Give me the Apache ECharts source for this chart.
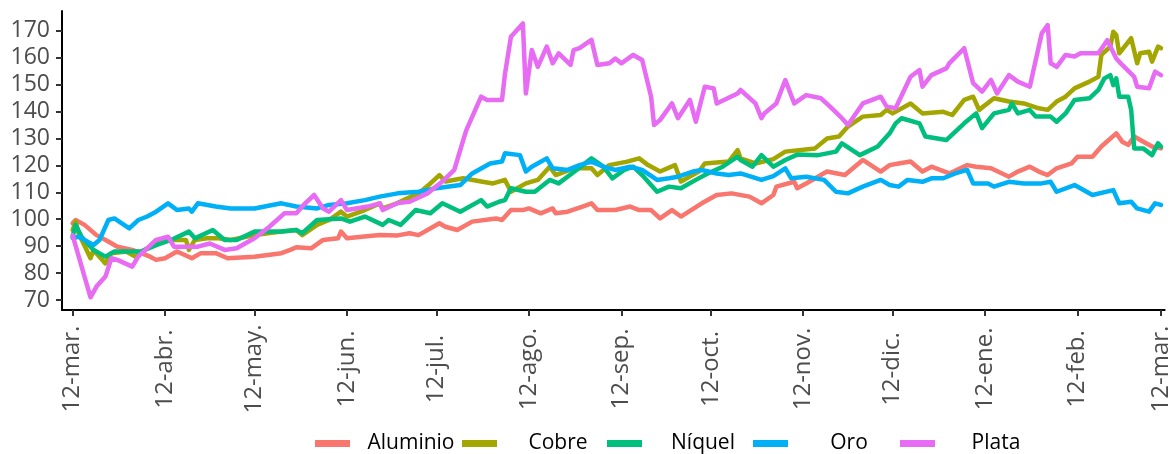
<!DOCTYPE html>
<html>
<head>
<meta charset="utf-8">
<script src="https://cdn.jsdelivr.net/npm/echarts@6/dist/echarts.min.js"></script>
<style>
  html, body { margin: 0; padding: 0; background: #ffffff; }
  #chart { width: 1173px; height: 454px; }
</style>
</head>
<body>
<div id="chart"></div>
<script>
// Índices de precios de metales (base 100), marzo 2020 – marzo 2021
const aluminio = [
  ['2020-03-12', 98.5], ['2020-03-13', 99.7], ['2020-03-16', 97.9], ['2020-03-20', 94.1], ['2020-03-24', 91.7],
  ['2020-03-27', 89.8], ['2020-04-01', 88.6], ['2020-04-04', 87.4], ['2020-04-07', 86.1], ['2020-04-09', 84.9],
  ['2020-04-12', 85.5], ['2020-04-16', 88.0], ['2020-04-21', 85.5], ['2020-04-24', 87.4], ['2020-04-29', 87.4],
  ['2020-05-03', 85.5], ['2020-05-12', 86.1], ['2020-05-21', 87.4], ['2020-05-24', 88.6], ['2020-05-26', 89.6],
  ['2020-05-31', 89.2], ['2020-06-04', 92.3], ['2020-06-09', 92.9], ['2020-06-10', 95.4], ['2020-06-12', 92.9],
  ['2020-06-17', 93.5], ['2020-06-23', 94.1], ['2020-06-29', 94.0], ['2020-07-03', 94.8], ['2020-07-06', 94.1],
  ['2020-07-13', 98.5], ['2020-07-15', 97.2], ['2020-07-19', 96.0], ['2020-07-24', 99.1], ['2020-08-01', 100.3],
  ['2020-08-03', 99.7], ['2020-08-06', 103.4], ['2020-08-10', 103.4], ['2020-08-12', 104.0], ['2020-08-16', 102.2],
  ['2020-08-20', 104.0], ['2020-08-21', 102.2], ['2020-08-25', 102.8], ['2020-08-30', 104.7], ['2020-09-02', 105.9],
  ['2020-09-04', 103.4], ['2020-09-10', 103.4], ['2020-09-15', 104.7], ['2020-09-18', 103.4], ['2020-09-22', 103.4],
  ['2020-09-25', 100.3], ['2020-09-29', 103.4], ['2020-10-02', 101.0], ['2020-10-09', 105.9], ['2020-10-14', 109.0],
  ['2020-10-19', 109.6], ['2020-10-25', 108.4], ['2020-10-29', 105.9], ['2020-11-02', 109.0], ['2020-11-03', 112.1],
  ['2020-11-09', 113.9], ['2020-11-10', 111.5], ['2020-11-13', 113.3], ['2020-11-20', 117.7], ['2020-11-26', 116.4],
  ['2020-12-02', 122.0], ['2020-12-08', 117.7], ['2020-12-11', 120.1], ['2020-12-14', 120.7], ['2020-12-18', 121.4],
  ['2020-12-22', 117.7], ['2020-12-25', 119.5], ['2020-12-31', 117.0], ['2021-01-06', 120.1], ['2021-01-09', 119.5],
  ['2021-01-14', 118.9], ['2021-01-20', 115.8], ['2021-01-23', 117.7], ['2021-01-27', 119.5], ['2021-01-30', 117.7],
  ['2021-02-02', 116.4], ['2021-02-05', 118.9], ['2021-02-10', 120.7], ['2021-02-12', 123.2], ['2021-02-17', 123.2],
  ['2021-02-20', 127.0], ['2021-02-25', 131.9], ['2021-02-27', 128.8], ['2021-03-01', 127.6], ['2021-03-03', 130.7],
  ['2021-03-07', 128.2], ['2021-03-09', 127.0], ['2021-03-12', 126.3]
];

const cobre = [
  ['2020-03-12', 96.0], ['2020-03-13', 99.1], ['2020-03-14', 94.8], ['2020-03-18', 85.5], ['2020-03-19', 88.6],
  ['2020-03-21', 86.1], ['2020-03-23', 83.6], ['2020-03-25', 87.4], ['2020-03-30', 88.0], ['2020-04-02', 86.1],
  ['2020-04-05', 88.6], ['2020-04-09', 91.0], ['2020-04-14', 92.3], ['2020-04-19', 92.3], ['2020-04-20', 88.6],
  ['2020-04-22', 92.3], ['2020-04-26', 92.9], ['2020-04-30', 92.9], ['2020-05-04', 92.3], ['2020-05-12', 94.1],
  ['2020-05-21', 95.4], ['2020-05-26', 96.0], ['2020-05-28', 94.1], ['2020-06-02', 97.9], ['2020-06-06', 99.7],
  ['2020-06-10', 102.8], ['2020-06-12', 101.0], ['2020-06-18', 103.4], ['2020-06-23', 105.9], ['2020-06-24', 104.0],
  ['2020-06-29', 106.0], ['2020-07-01', 107.1], ['2020-07-06', 109.6], ['2020-07-10', 113.3], ['2020-07-13', 116.4],
  ['2020-07-15', 114.0], ['2020-07-21', 115.2], ['2020-07-27', 114.0], ['2020-07-31', 113.3], ['2020-08-04', 114.6],
  ['2020-08-06', 110.2], ['2020-08-11', 113.3], ['2020-08-15', 114.6], ['2020-08-19', 119.5], ['2020-08-21', 116.4],
  ['2020-08-27', 118.9], ['2020-09-02', 118.9], ['2020-09-04', 116.4], ['2020-09-08', 120.1], ['2020-09-14', 121.4],
  ['2020-09-18', 122.6], ['2020-09-21', 120.1], ['2020-09-25', 117.7], ['2020-09-30', 120.1], ['2020-10-02', 114.0],
  ['2020-10-08', 117.7], ['2020-10-10', 120.7], ['2020-10-18', 121.4], ['2020-10-21', 125.7], ['2020-10-22', 122.6],
  ['2020-10-27', 120.7], ['2020-11-02', 122.3], ['2020-11-06', 125.1], ['2020-11-16', 126.3], ['2020-11-20', 130.0],
  ['2020-11-24', 130.7], ['2020-11-27', 134.4], ['2020-12-02', 138.1], ['2020-12-08', 138.7], ['2020-12-10', 140.6],
  ['2020-12-12', 139.3], ['2020-12-18', 143.0], ['2020-12-22', 139.3], ['2020-12-29', 139.9], ['2021-01-01', 138.7],
  ['2021-01-05', 144.3], ['2021-01-08', 145.5], ['2021-01-10', 140.6], ['2021-01-15', 144.9], ['2021-01-20', 143.7],
  ['2021-01-25', 143.0], ['2021-01-30', 141.2], ['2021-02-02', 140.6], ['2021-02-05', 143.7], ['2021-02-08', 145.5],
  ['2021-02-11', 148.6], ['2021-02-16', 151.1], ['2021-02-19', 152.9], ['2021-02-20', 161.0], ['2021-02-23', 164.1],
  ['2021-02-24', 169.6], ['2021-02-25', 168.4], ['2021-02-26', 161.6], ['2021-03-02', 167.2], ['2021-03-04', 157.9],
  ['2021-03-05', 161.6], ['2021-03-08', 162.2], ['2021-03-09', 158.5], ['2021-03-11', 164.1], ['2021-03-12', 163.5]
];

const niquel = [
  ['2020-03-12', 93.5], ['2020-03-13', 97.9], ['2020-03-15', 93.5], ['2020-03-19', 88.6], ['2020-03-23', 86.1],
  ['2020-03-26', 88.0], ['2020-04-01', 88.0], ['2020-04-04', 88.0], ['2020-04-09', 90.4], ['2020-04-14', 92.3],
  ['2020-04-20', 95.4], ['2020-04-22', 92.9], ['2020-04-28', 96.0], ['2020-05-02', 92.3], ['2020-05-06', 92.3],
  ['2020-05-12', 95.4], ['2020-05-21', 95.4], ['2020-05-26', 96.0], ['2020-05-28', 94.8], ['2020-06-02', 99.7],
  ['2020-06-10', 100.3], ['2020-06-13', 99.1], ['2020-06-18', 101.0], ['2020-06-24', 97.9], ['2020-06-26', 99.7],
  ['2020-06-30', 97.9], ['2020-07-05', 103.4], ['2020-07-10', 102.2], ['2020-07-14', 105.9], ['2020-07-20', 102.8],
  ['2020-07-27', 107.1], ['2020-07-29', 104.7], ['2020-08-02', 106.5], ['2020-08-04', 107.1], ['2020-08-06', 111.5],
  ['2020-08-11', 110.2], ['2020-08-14', 110.2], ['2020-08-19', 114.6], ['2020-08-22', 113.3], ['2020-08-28', 118.3],
  ['2020-09-02', 122.6], ['2020-09-06', 119.5], ['2020-09-09', 115.2], ['2020-09-13', 118.3], ['2020-09-16', 119.5],
  ['2020-09-19', 116.4], ['2020-09-24', 110.2], ['2020-09-28', 112.1], ['2020-10-02', 111.5], ['2020-10-07', 114.6],
  ['2020-10-11', 117.0], ['2020-10-16', 119.5], ['2020-10-21', 123.2], ['2020-10-22', 122.0], ['2020-10-26', 119.5],
  ['2020-10-29', 123.8], ['2020-11-02', 119.5], ['2020-11-06', 122.0], ['2020-11-10', 124.0], ['2020-11-17', 123.8],
  ['2020-11-23', 125.1], ['2020-11-25', 128.2], ['2020-12-01', 123.8], ['2020-12-07', 127.0], ['2020-12-11', 131.9],
  ['2020-12-13', 135.6], ['2020-12-15', 137.5], ['2020-12-21', 135.6], ['2020-12-23', 130.7], ['2020-12-30', 129.4],
  ['2021-01-05', 135.6], ['2021-01-09', 139.3], ['2021-01-11', 133.8], ['2021-01-15', 139.3], ['2021-01-20', 140.6],
  ['2021-01-21', 143.0], ['2021-01-23', 139.3], ['2021-01-27', 140.6], ['2021-01-29', 138.1], ['2021-02-03', 138.1],
  ['2021-02-05', 136.2], ['2021-02-08', 139.3], ['2021-02-11', 144.3], ['2021-02-16', 144.9], ['2021-02-19', 148.0],
  ['2021-02-21', 152.3], ['2021-02-23', 153.5], ['2021-02-24', 149.8], ['2021-02-25', 152.3], ['2021-02-26', 145.5],
  ['2021-03-01', 145.5], ['2021-03-02', 140.6], ['2021-03-03', 126.3], ['2021-03-06', 126.3], ['2021-03-09', 123.8],
  ['2021-03-11', 128.2], ['2021-03-12', 127.0]
];

const oro = [
  ['2020-03-12', 93.0], ['2020-03-14', 93.5], ['2020-03-19', 90.4], ['2020-03-21', 92.3], ['2020-03-24', 99.7],
  ['2020-03-26', 100.3], ['2020-03-31', 96.6], ['2020-04-03', 99.7], ['2020-04-06', 101.0], ['2020-04-09', 102.8],
  ['2020-04-13', 105.9], ['2020-04-16', 103.4], ['2020-04-20', 104.0], ['2020-04-21', 102.8], ['2020-04-23', 105.9],
  ['2020-04-29', 104.7], ['2020-05-04', 104.0], ['2020-05-12', 104.0], ['2020-05-21', 105.9], ['2020-05-26', 104.7],
  ['2020-06-02', 104.0], ['2020-06-06', 105.3], ['2020-06-12', 105.9], ['2020-06-18', 107.1], ['2020-06-23', 108.4],
  ['2020-06-29', 109.6], ['2020-07-06', 110.2], ['2020-07-12', 111.5], ['2020-07-20', 112.7], ['2020-07-24', 117.0],
  ['2020-07-30', 120.7], ['2020-08-03', 121.4], ['2020-08-04', 124.5], ['2020-08-09', 123.8], ['2020-08-11', 117.7],
  ['2020-08-13', 119.5], ['2020-08-18', 122.6], ['2020-08-20', 118.9], ['2020-08-25', 118.3], ['2020-08-29', 120.1],
  ['2020-09-02', 121.4], ['2020-09-06', 119.5], ['2020-09-10', 118.3], ['2020-09-15', 119.5], ['2020-09-19', 118.3],
  ['2020-09-24', 114.6], ['2020-09-28', 115.2], ['2020-10-01', 115.8], ['2020-10-06', 117.7], ['2020-10-09', 118.3],
  ['2020-10-14', 117.0], ['2020-10-18', 116.4], ['2020-10-22', 117.0], ['2020-10-29', 114.6], ['2020-11-02', 116.0],
  ['2020-11-06', 118.9], ['2020-11-08', 115.2], ['2020-11-13', 115.8], ['2020-11-19', 114.6], ['2020-11-23', 110.2],
  ['2020-11-27', 109.6], ['2020-12-02', 112.1], ['2020-12-08', 114.6], ['2020-12-11', 112.7], ['2020-12-14', 112.1],
  ['2020-12-17', 114.6], ['2020-12-22', 113.9], ['2020-12-25', 115.2], ['2020-12-29', 115.2], ['2021-01-02', 117.0],
  ['2021-01-06', 118.3], ['2021-01-08', 113.3], ['2021-01-13', 113.3], ['2021-01-15', 112.1], ['2021-01-20', 113.9],
  ['2021-01-25', 113.3], ['2021-01-31', 113.3], ['2021-02-03', 113.9], ['2021-02-05', 110.2], ['2021-02-11', 112.7],
  ['2021-02-17', 109.0], ['2021-02-24', 110.8], ['2021-02-26', 105.9], ['2021-03-02', 106.5], ['2021-03-04', 104.0],
  ['2021-03-08', 102.8], ['2021-03-10', 105.9], ['2021-03-12', 105.3]
];

const plata = [
  ['2020-03-12', 94.0], ['2020-03-18', 71.0], ['2020-03-20', 75.0], ['2020-03-23', 78.7], ['2020-03-25', 85.5],
  ['2020-03-27', 84.9], ['2020-04-01', 82.4], ['2020-04-03', 86.1], ['2020-04-09', 92.3], ['2020-04-13', 93.5],
  ['2020-04-15', 89.8], ['2020-04-23', 89.8], ['2020-04-27', 91.0], ['2020-05-02', 88.6], ['2020-05-06', 89.2],
  ['2020-05-12', 92.9], ['2020-05-17', 97.2], ['2020-05-22', 102.2], ['2020-05-26', 102.2], ['2020-05-29', 105.9],
  ['2020-06-01', 109.0], ['2020-06-04', 104.0], ['2020-06-06', 102.8], ['2020-06-10', 107.1], ['2020-06-12', 103.4],
  ['2020-06-19', 104.7], ['2020-06-23', 105.9], ['2020-06-24', 103.4], ['2020-06-29', 106.0], ['2020-07-03', 106.5],
  ['2020-07-09', 109.6], ['2020-07-14', 114.0], ['2020-07-18', 118.3], ['2020-07-20', 125.7], ['2020-07-22', 133.0],
  ['2020-07-27', 145.5], ['2020-07-29', 144.3], ['2020-08-03', 144.3], ['2020-08-04', 154.0], ['2020-08-06', 167.8],
  ['2020-08-10', 172.7], ['2020-08-11', 146.7], ['2020-08-13', 162.8], ['2020-08-15', 156.6], ['2020-08-18', 164.1],
  ['2020-08-20', 157.9], ['2020-08-22', 161.6], ['2020-08-26', 157.3], ['2020-08-27', 162.8], ['2020-08-29', 163.5],
  ['2020-09-02', 166.6], ['2020-09-04', 157.3], ['2020-09-08', 157.9], ['2020-09-10', 159.7], ['2020-09-12', 157.9],
  ['2020-09-16', 161.0], ['2020-09-19', 159.1], ['2020-09-22', 145.5], ['2020-09-23', 135.0], ['2020-09-25', 136.8],
  ['2020-09-29', 143.0], ['2020-10-01', 137.5], ['2020-10-05', 144.3], ['2020-10-07', 136.2], ['2020-10-10', 149.2],
  ['2020-10-13', 148.6], ['2020-10-14', 143.0], ['2020-10-21', 146.7], ['2020-10-22', 148.0], ['2020-10-27', 143.0],
  ['2020-10-29', 137.5], ['2020-10-30', 139.3], ['2020-11-03', 143.0], ['2020-11-06', 151.7], ['2020-11-09', 143.0],
  ['2020-11-13', 146.1], ['2020-11-18', 144.9], ['2020-11-21', 141.8], ['2020-11-25', 137.5], ['2020-11-27', 135.0],
  ['2020-12-02', 143.0], ['2020-12-08', 145.5], ['2020-12-10', 141.8], ['2020-12-13', 141.2], ['2020-12-18', 152.9],
  ['2020-12-21', 155.4], ['2020-12-22', 149.2], ['2020-12-25', 153.5], ['2020-12-30', 156.0], ['2020-12-31', 157.9],
  ['2021-01-05', 163.5], ['2021-01-08', 150.5], ['2021-01-11', 147.4], ['2021-01-14', 151.7], ['2021-01-16', 146.7],
  ['2021-01-20', 153.5], ['2021-01-23', 151.1], ['2021-01-27', 149.2], ['2021-01-29', 159.1], ['2021-01-31', 169.0],
  ['2021-02-02', 172.1], ['2021-02-03', 157.9], ['2021-02-05', 156.6], ['2021-02-08', 161.0], ['2021-02-11', 160.4],
  ['2021-02-13', 161.6], ['2021-02-19', 161.6], ['2021-02-22', 166.5], ['2021-02-25', 159.7], ['2021-02-27', 157.3],
  ['2021-03-03', 152.9], ['2021-03-04', 149.2], ['2021-03-08', 148.6], ['2021-03-10', 154.8], ['2021-03-12', 153.5]
];

const nombresSeries = ['Aluminio', 'Cobre', 'Níquel', 'Oro', 'Plata'];
const coloresSeries = ['#F8766D', '#A3A500', '#00BF7D', '#00B0F6', '#E76BF3'];
const datosSeries = [aluminio, cobre, niquel, oro, plata];

const tickFechas = ['2020-03-12', '2020-04-12', '2020-05-12', '2020-06-12', '2020-07-12', '2020-08-12',
  '2020-09-12', '2020-10-12', '2020-11-12', '2020-12-12', '2021-01-12', '2021-02-12', '2021-03-12'];
const tickEtiquetas = ['12-mar.', '12-abr.', '12-may.', '12-jun.', '12-jul.', '12-ago.',
  '12-sep.', '12-oct.', '12-nov.', '12-dic.', '12-ene.', '12-feb.', '12-mar.'];
const yTicks = [70, 80, 90, 100, 110, 120, 130, 140, 150, 160, 170];

// Legend key positions along the bottom row
const leyendaX = [315, 462, 607, 753, 900];

const DAY = 86400000;
const ts = s => { const p = s.split('-').map(Number); return Date.UTC(p[0], p[1] - 1, p[2]); };
const tickTs = tickFechas.map(ts);
const FONT = '"Open Sans", "DejaVu Sans", sans-serif';

const chart = echarts.init(document.getElementById('chart'), null, { renderer: 'canvas' });

chart.setOption({
  animation: false,
  backgroundColor: '#ffffff',
  grid: { left: 62, right: 0, top: 11, bottom: 144, containLabel: false },
  xAxis: {
    type: 'value',
    min: ts('2020-03-12') - 3.56 * DAY,
    max: ts('2021-03-12') + 1.23 * DAY,
    splitLine: { show: false },
    axisLine: { show: true, onZero: false, lineStyle: { color: '#000000', width: 2 } },
    axisTick: { show: true, customValues: tickTs, length: 6, lineStyle: { color: '#333333', width: 2 } },
    axisLabel: {
      customValues: tickTs,
      rotate: 90,
      align: 'center',
      verticalAlign: 'middle',
      margin: 59,
      color: '#4d4d4d',
      fontSize: 24,
      fontFamily: FONT,
      formatter: v => {
        const i = tickTs.indexOf(v);
        return i >= 0 ? tickEtiquetas[i] : '';
      }
    }
  },
  yAxis: {
    type: 'value',
    min: 66.29,
    max: 177.32,
    splitLine: { show: false },
    axisLine: { show: true, onZero: false, lineStyle: { color: '#000000', width: 2 } },
    axisTick: { show: true, customValues: yTicks, length: 6, lineStyle: { color: '#333333', width: 2 } },
    axisLabel: {
      customValues: yTicks,
      margin: 12,
      color: '#4d4d4d',
      fontSize: 23,
      fontFamily: FONT
    }
  },
  legend: nombresSeries.map((n, i) => ({
    data: [n],
    left: leyendaX[i],
    top: 433,
    orient: 'horizontal',
    icon: 'rect',
    itemWidth: 35,
    itemHeight: 7,
    padding: 0,
    selectedMode: false,
    formatter: name => '{t|' + name + '}',
    textStyle: {
      color: '#000000',
      fontSize: 21,
      fontFamily: FONT,
      rich: { t: { width: 112, align: 'center', fontSize: 21, fontFamily: FONT, color: '#000000', lineHeight: 20 } }
    }
  })),
  series: nombresSeries.map((n, i) => ({
    name: n,
    type: 'line',
    data: datosSeries[i].map(d => [ts(d[0]), d[1]]),
    showSymbol: false,
    symbol: 'none',
    color: coloresSeries[i],
    lineStyle: { width: 4.5, color: coloresSeries[i], cap: 'round', join: 'round' },
    emphasis: { disabled: true },
    z: 2 + i
  }))
});
</script>
</body>
</html>
